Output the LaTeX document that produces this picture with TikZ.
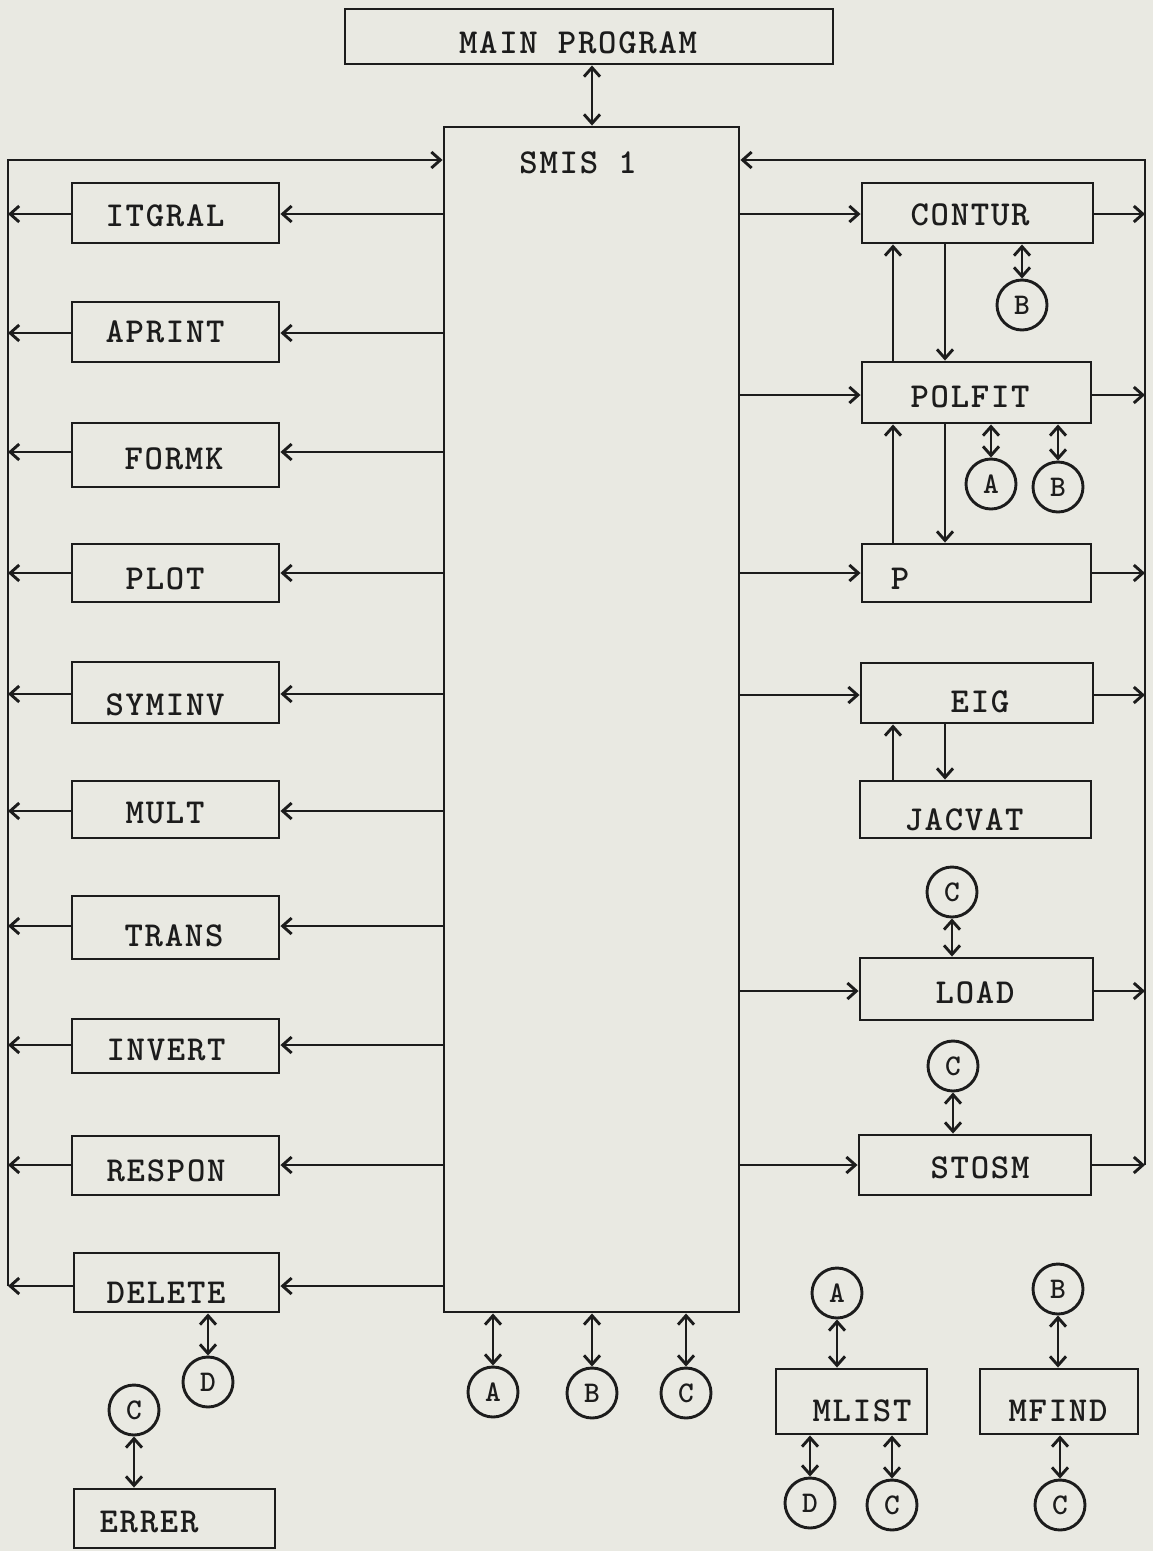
\documentclass[tikz,border=0pt]{standalone}
\usepackage{fontspec}
\newfontfamily\tw[LetterSpace=5]{lmmonolt10-bold.otf}
\usetikzlibrary{arrows.meta,fit}
\definecolor{paper}{RGB}{233,233,226}
\definecolor{ink}{RGB}{28,28,28}
\begin{document}
\begin{tikzpicture}[x=1pt,y=-1pt, line width=2.9pt, draw=ink,
  bx/.style={draw=ink, inner sep=0pt},
  lb/.style={font=\tw\fontsize{35}{35}\selectfont, text=ink, inner sep=0pt, anchor=center},
  cl/.style={draw=ink, circle, minimum size=50pt, inner sep=0pt, text=ink, font=\tw\fontsize{30}{30}\selectfont},
  ar/.style={-{Straight Barb[length=9pt,width=16pt]}},
  dar/.style={{Straight Barb[length=9pt,width=16pt]}-{Straight Barb[length=9pt,width=16pt]}}
]
\fill[paper] (0,0) rectangle (1153,1551);
\useasboundingbox (0,0) rectangle (1153,1551);

% guide coordinates
\coordinate (lx) at (8,0);
\coordinate (rx) at (1145,0);
\coordinate (ty) at (0,160);
\coordinate (xu) at (893,0);
\coordinate (xd) at (945,0);
\coordinate (xm) at (592,0);

% main boxes
\node[bx, fit={(345,9) (833,64)}] (main) {};
\node[lb] (mainT) at (578,43) {MAIN PROGRAM};
\node[bx, fit={(444,127) (739,1312)}] (smis) {};
\node[lb] (smisT) at (578,163) {SMIS 1};

% left boxes
\node[bx, fit={(72,183) (279,243)}] (itgral) {};
\node[lb] (itgralT) at (165,216) {ITGRAL};
\node[bx, fit={(72,302) (279,362)}] (aprint) {};
\node[lb] (aprintT) at (165,332) {APRINT};
\node[bx, fit={(72,423) (279,487)}] (formk) {};
\node[lb] (formkT) at (174,459) {FORMK};
\node[bx, fit={(72,544) (279,602)}] (plot) {};
\node[lb] (plotT) at (165,579) {PLOT};
\node[bx, fit={(72,662) (279,723)}] (syminv) {};
\node[lb] (syminvT) at (165,705) {SYMINV};
\node[bx, fit={(72,781) (279,838)}] (mult) {};
\node[lb] (multT) at (165,813) {MULT};
\node[bx, fit={(72,896) (279,959)}] (trans) {};
\node[lb] (transT) at (174,936) {TRANS};
\node[bx, fit={(72,1019) (279,1073)}] (invert) {};
\node[lb] (invertT) at (166,1050) {INVERT};
\node[bx, fit={(72,1136) (279,1195)}] (respon) {};
\node[lb] (responT) at (166,1171) {RESPON};
\node[bx, fit={(74,1253) (279,1312)}] (delete) {};
\node[lb] (deleteT) at (166,1293) {DELETE};
\node[bx, fit={(74,1489) (275,1548)}] (errer) {};
\node[lb] (errerT) at (149,1522) {ERRER};

% right boxes
\node[bx, fit={(862,183) (1093,243)}] (contur) {};
\node[lb] (conturT) at (970,215) {CONTUR};
\node[bx, fit={(862,362) (1091,423)}] (polfit) {};
\node[lb] (polfitT) at (970,397) {POLFIT};
\node[bx, fit={(862,544) (1091,602)}] (pbox) {};
\node[lb] (pT) at (900,579) {P};
\node[bx, fit={(861,663) (1093,723)}] (eig) {};
\node[lb] (eigT) at (980,702) {EIG};
\node[bx, fit={(860,781) (1091,838)}] (jacvat) {};
\node[lb] (jacvatT) at (964,820) {JACVAT};
\node[bx, fit={(860,958) (1093,1020)}] (load) {};
\node[lb] (loadT) at (975,993) {LOAD};
\node[bx, fit={(859,1135) (1091,1195)}] (stosm) {};
\node[lb] (stosmT) at (980,1168) {STOSM};
\node[bx, fit={(776,1369) (927,1434)}] (mlist) {};
\node[lb] (mlistT) at (862,1411) {MLIST};
\node[bx, fit={(980,1369) (1138,1434)}] (mfind) {};
\node[lb] (mfindT) at (1058,1411) {MFIND};

% circles
\node[cl] (cB1) at (1022,305) {B};
\node[cl] (cA2) at (991,484) {A};
\node[cl] (cB2) at (1058,487) {B};
\node[cl] (cC1) at (952,892) {C};
\node[cl] (cC2) at (953,1066) {C};
\node[cl] (sA) at (493,1392) {A};
\node[cl] (sB) at (592,1393) {B};
\node[cl] (sC) at (686,1393) {C};
\node[cl] (mA) at (837,1293) {A};
\node[cl] (mD) at (810,1503) {D};
\node[cl] (mC) at (892,1505) {C};
\node[cl] (fB) at (1058,1289) {B};
\node[cl] (fC) at (1060,1505) {C};
\node[cl] (dD) at (208,1382) {D};
\node[cl] (eC) at (134,1410) {C};

% main <-> smis
\draw[dar] (main.south -| xm) -- (smis.north -| xm);

% left side
\foreach \b/\yy in {itgral/214,aprint/333,formk/452,plot/573,syminv/694,mult/811,trans/926,invert/1045,respon/1165,delete/1286}{
  \coordinate (ya) at (0,\yy);
  \draw[ar] (smis.west |- ya) -- (\b.east |- ya);
  \draw[ar] (\b.west |- ya) -- (lx |- ya);
}
\coordinate (yd) at (0,1286);
\draw[ar] (lx |- yd) -- (lx |- ty) -- (smis.west |- ty);

% right side
\foreach \b/\yy in {contur/214,polfit/395,pbox/573,eig/695,load/991,stosm/1165}{
  \coordinate (ya) at (0,\yy);
  \draw[ar] (smis.east |- ya) -- (\b.west |- ya);
  \draw[ar] (\b.east |- ya) -- (rx |- ya);
}
\coordinate (ys) at (0,1165);
\draw[ar] (rx |- ys) -- (rx |- ty) -- (smis.east |- ty);

% between right boxes
\draw[ar] (polfit.north -| xu) -- (contur.south -| xu);
\draw[ar] (contur.south -| xd) -- (polfit.north -| xd);
\draw[ar] (pbox.north -| xu) -- (polfit.south -| xu);
\draw[ar] (polfit.south -| xd) -- (pbox.north -| xd);
\draw[ar] (jacvat.north -| xu) -- (eig.south -| xu);
\draw[ar] (eig.south -| xd) -- (jacvat.north -| xd);

% circle links
\draw[dar] (contur.south -| cB1) -- (cB1.north);
\draw[dar] (polfit.south -| cA2) -- (cA2.north);
\draw[dar] (polfit.south -| cB2) -- (cB2.north);
\draw[dar] (cC1.south) -- (load.north -| cC1);
\draw[dar] (cC2.south) -- (stosm.north -| cC2);
\draw[dar] (smis.south -| sA) -- (sA.north);
\draw[dar] (smis.south -| sB) -- (sB.north);
\draw[dar] (smis.south -| sC) -- (sC.north);
\draw[dar] (mA.south) -- (mlist.north -| mA);
\draw[dar] (mlist.south -| mD) -- (mD.north);
\draw[dar] (mlist.south -| mC) -- (mC.north);
\draw[dar] (fB.south) -- (mfind.north -| fB);
\draw[dar] (mfind.south -| fC) -- (fC.north);
\draw[dar] (delete.south -| dD) -- (dD.north);
\draw[dar] (eC.south) -- (errer.north -| eC);
\end{tikzpicture}
\end{document}
